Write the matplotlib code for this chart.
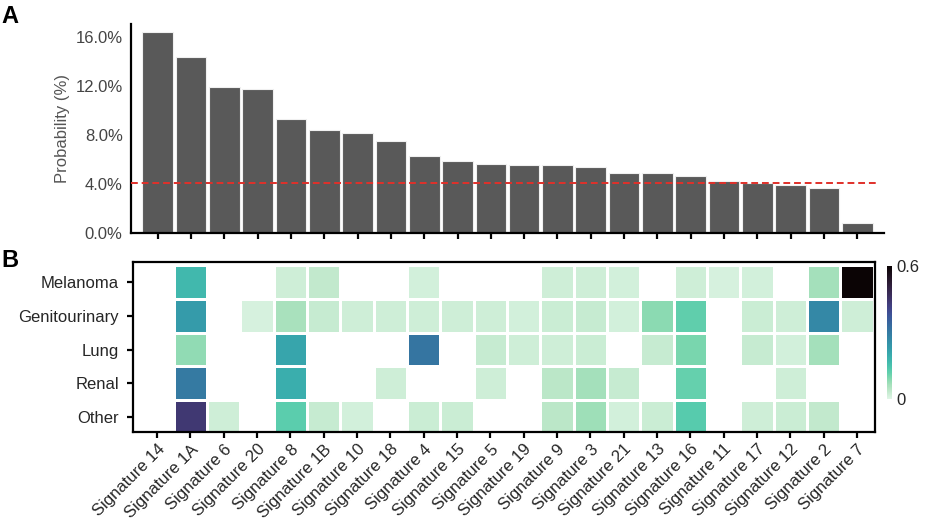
import numpy as np
import matplotlib
matplotlib.use("Agg")
import matplotlib.pyplot as plt
import seaborn as sns
from matplotlib.ticker import FormatStrFormatter

plt.rcParams['font.family'] = ['Liberation Sans', 'DejaVu Sans']

signatures = ["Signature 14", "Signature 1A", "Signature 6", "Signature 20", "Signature 8",
              "Signature 1B", "Signature 10", "Signature 18", "Signature 4", "Signature 15",
              "Signature 5", "Signature 19", "Signature 9", "Signature 3", "Signature 21",
              "Signature 13", "Signature 16", "Signature 11", "Signature 17", "Signature 12",
              "Signature 2", "Signature 7"]
probability = [16.47, 14.37, 11.97, 11.78, 9.36, 8.40, 8.21, 7.53, 6.28, 5.87, 5.67,
               5.59, 5.54, 5.37, 4.91, 4.88, 4.69, 4.28, 4.09, 3.90, 3.71, 0.79]
threshold = 4.07

cancer_types = ["Melanoma", "Genitourinary", "Lung", "Renal", "Other"]
# NaN = signature not present (white cell)
nan = np.nan
melanoma = [nan, 0.17, nan, nan, 0.02, 0.035, nan, nan, 0.015, nan, nan,
            nan, 0.02, 0.02, 0.015, nan, 0.02, 0.01, 0.015, nan, 0.065, 0.60]
genitourinary = [nan, 0.23, nan, 0.01, 0.06, 0.03, 0.02, 0.02, 0.02, 0.02, 0.02,
                 0.015, 0.025, 0.03, 0.015, 0.085, 0.12, nan, 0.025, 0.02, 0.27, 0.02]
lung = [nan, 0.08, nan, nan, 0.21, nan, nan, nan, 0.31, nan, 0.03,
        0.02, 0.02, 0.025, nan, 0.03, 0.10, nan, 0.03, 0.015, 0.065, nan]
renal = [nan, 0.30, nan, nan, 0.19, nan, nan, 0.02, nan, nan, 0.02,
         nan, 0.04, 0.065, 0.03, nan, 0.115, nan, nan, 0.02, nan, nan]
other = [nan, 0.44, 0.02, nan, 0.125, 0.03, 0.015, nan, 0.025, 0.025, nan,
         nan, 0.04, 0.07, 0.015, 0.025, 0.13, nan, 0.02, 0.025, 0.035, nan]

heat = np.ma.masked_invalid(np.array([melanoma, genitourinary, lung, renal, other]))

text_col = '#262626'
fig = plt.figure(figsize=(9.25, 5.19), dpi=100)

# panel A: bar chart
ax1 = fig.add_axes([0.1416, 0.551, 0.8141, 0.4028])
x = np.arange(len(signatures))
ax1.bar(x, probability, width=0.92, color='#595959', edgecolor='#f0f0f0', linewidth=0.8)
ax1.hlines(threshold, -0.8, 21.6, colors='#e0302a', linestyles=(0, (3.5, 2)), linewidth=1.4, zorder=3)
ax1.set_xlim(-0.8, 21.8)
ax1.set_ylim(0, 17.1)
ax1.set_yticks([0, 4, 8, 12, 16])
ax1.yaxis.set_major_formatter(FormatStrFormatter('%.1f%%'))
ax1.set_xticks(x)
ax1.set_xticklabels([])
ax1.set_ylabel("Probability (%)", fontsize=12, color='#555555', labelpad=4)
for s in ['top', 'right']:
    ax1.spines[s].set_visible(False)
for s in ['left', 'bottom']:
    ax1.spines[s].set_linewidth(1.6)
ax1.tick_params(axis='y', length=0, pad=6, labelsize=12, labelcolor='#444444')
ax1.tick_params(axis='x', length=4, width=1.6, direction='out')

# panel B: heatmap
ax2 = fig.add_axes([0.1438, 0.1676, 0.8022, 0.3276])
cmap = sns.color_palette("mako_r", as_cmap=True)
xe = np.arange(len(signatures) + 1) - 0.5
ye = np.arange(len(cancer_types) + 1) - 0.5
mesh = ax2.pcolormesh(xe, ye, heat, cmap=cmap, vmin=0, vmax=0.6,
                      edgecolors='white', linewidth=1.0)
ax2.set_xlim(-0.72, 21.54)
ax2.set_ylim(4.44, -0.59)
ax2.set_xticks(x)
ax2.set_xticklabels(signatures, rotation=45, ha='right', rotation_mode='anchor', fontsize=12, color=text_col)
ax2.set_yticks(np.arange(len(cancer_types)))
ax2.set_yticklabels(cancer_types, fontsize=12, color=text_col)
for s in ax2.spines.values():
    s.set_linewidth(1.6)
ax2.tick_params(axis='both', length=4, width=1.6, direction='out')
ax2.tick_params(axis='y', pad=6)
ax2.tick_params(axis='x', pad=3)

cax = fig.add_axes([0.959, 0.2312, 0.0054, 0.2563])
cb = fig.colorbar(mesh, cax=cax, ticks=[0, 0.6])
cb.outline.set_visible(False)
cb.ax.set_yticklabels(['0', '0.6'])
cb.ax.tick_params(length=0, labelsize=12, pad=3, labelcolor=text_col)

fig.text(0.002, 0.955, "A", fontsize=17, fontweight='bold')
fig.text(0.002, 0.485, "B", fontsize=17, fontweight='bold')

fig.savefig("out.png", dpi=100)
